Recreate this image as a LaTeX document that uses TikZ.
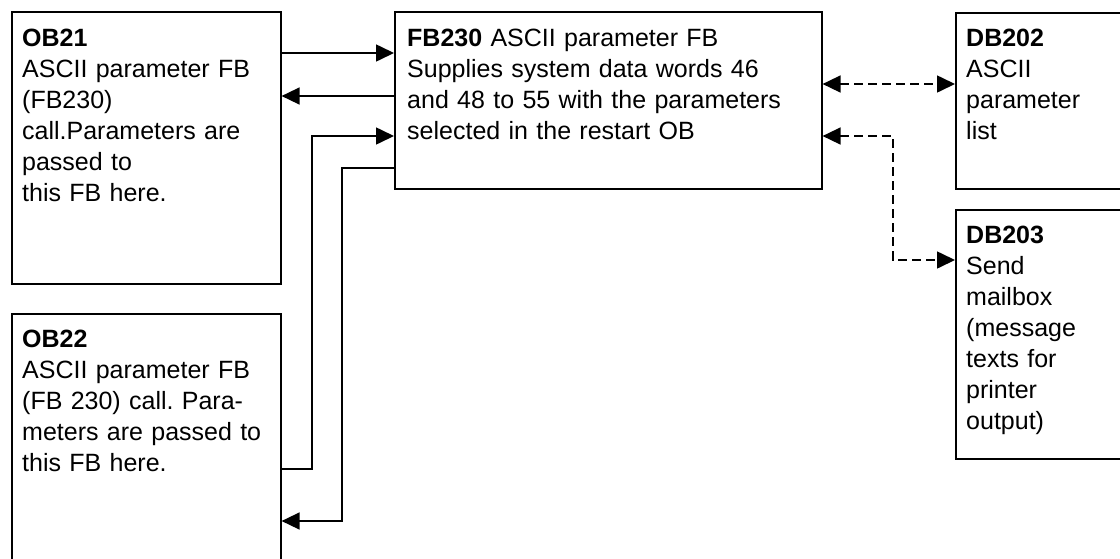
\documentclass[tikz,border=0pt]{standalone}
\usepackage{fontspec}
\setmainfont{Liberation Sans}
\usetikzlibrary{arrows.meta}
\definecolor{lineblack}{RGB}{0,0,0}

\begin{document}
\frenchspacing
\begin{tikzpicture}[x=1pt, y=-1pt,
    box/.style={draw=lineblack, line width=1.6pt, rectangle, anchor=north west, inner sep=0pt},
    txt/.style={anchor=base west, inner sep=0pt, align=left, font=\fontsize{25}{31}\selectfont},
    arr/.style={-{Triangle[length=18pt, width=17pt]}, line width=1.6pt},
    darr/.style={{Triangle[length=18pt, width=17pt]}-{Triangle[length=18pt, width=17pt]}, line width=1.6pt, dash pattern=on 9pt off 5pt}]
    \useasboundingbox (0,0) rectangle (1120,558);
    \clip (0,0) rectangle (1120,558);

    \node[box, minimum width=269pt, minimum height=272pt] (ob21) at (11,11) {};
    \node[box, minimum width=269pt, minimum height=262pt] (ob22) at (11,313) {};
    \node[box, minimum width=427pt, minimum height=177pt] (fb230) at (394,11) {};
    \node[box, minimum width=185pt, minimum height=176pt] (db202) at (955,12) {};
    \node[box, minimum width=185pt, minimum height=249pt] (db203) at (955,209) {};

    \node[txt, text width=260pt] (ob21t) at ([xshift=11pt, yshift=-35pt]ob21.north west)
        {\textbf{OB21}\\ASCII parameter FB\\(FB230)\\call.Parameters are\\passed to\\this FB here.};
    \node[txt, text width=260pt] (ob22t) at ([xshift=11pt, yshift=-34pt]ob22.north west)
        {\textbf{OB22}\\ASCII parameter FB\\(FB 230) call. Para-\\meters are passed to\\this FB here.};
    \node[txt, text width=410pt] (fb230t) at ([xshift=13pt, yshift=-35pt]fb230.north west)
        {\textbf{FB230} ASCII parameter FB\\Supplies system data words 46\\and 48 to 55 with the parameters\\selected in the restart OB};
    \node[txt, text width=160pt] (db202t) at ([xshift=11pt, yshift=-34pt]db202.north west)
        {\textbf{DB202}\\ASCII\\parameter\\list};
    \node[txt, text width=160pt] (db203t) at ([xshift=11pt, yshift=-34pt]db203.north west)
        {\textbf{DB203}\\Send\\mailbox\\(message\\texts for\\printer\\output)};

    % calls between the OBs and FB230
    \draw[arr] ([yshift=-42pt]ob21.north east) -- ([yshift=-42pt]fb230.north west);
    \draw[arr] ([yshift=-85pt]fb230.north west) -- ([yshift=-85pt]ob21.north east);
    \coordinate (up) at (312,136);
    \coordinate (down) at (342,168);
    \draw[arr] ([yshift=-156pt]ob22.north east) -| (up) -- ([yshift=-125pt]fb230.north west);
    \draw[arr] ([yshift=-157pt]fb230.north west) -- (down) |- ([yshift=-208pt]ob22.north east);

    % data blocks
    \draw[darr] ([yshift=-73pt]fb230.north east) -- ([yshift=-72pt]db202.north west);
    \coordinate (turn) at (893,136);
    \draw[darr] ([yshift=-125pt]fb230.north east) -- (turn) |- ([yshift=-51pt]db203.north west);
\end{tikzpicture}
\end{document}
